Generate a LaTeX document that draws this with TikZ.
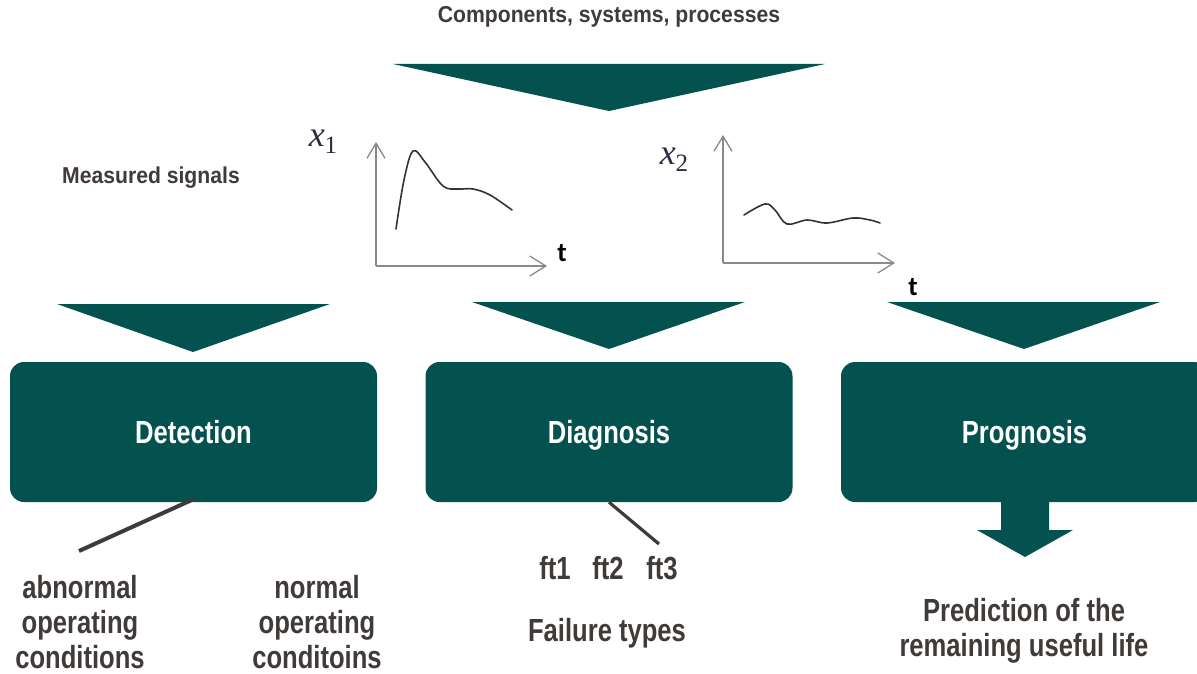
\documentclass[tikz,border=0pt]{standalone}
\usepackage{fontspec}
\usetikzlibrary{arrows.meta}
\newfontfamily\condfont[FakeStretch=0.8]{Liberation Sans}
\newfontfamily\headfont[FakeStretch=0.92]{Liberation Sans}
\newfontfamily\axisfont{Carlito}
\newfontfamily\varfont{Liberation Serif}
\newcommand{\signame}[1]{{\itshape x}\raisebox{-7pt}{\fontsize{25}{25}\selectfont #1}}
\definecolor{tealbox}{HTML}{03524F}
\definecolor{txtgray}{HTML}{403A38}
\definecolor{axisgray}{HTML}{8A8A8A}
\definecolor{curvegray}{HTML}{333333}
\definecolor{varcol}{HTML}{2A2D40}
\begin{document}
\begin{tikzpicture}[x=1pt,y=-1pt,
  box/.style={fill=tealbox, rounded corners=14pt, minimum width=367pt, minimum height=140pt,
    inner sep=0pt, text height=23pt, text depth=0pt, text=white,
    font=\condfont\bfseries\fontsize{32}{35}\selectfont},
  tri/.style={fill=tealbox},
  big/.style={text=txtgray, align=center, inner sep=0pt, font=\condfont\bfseries\fontsize{32}{35}\selectfont},
  head/.style={text=txtgray, inner sep=0pt, font=\headfont\bfseries\fontsize{23}{26}\selectfont},
  lead/.style={draw=txtgray, line width=4pt},
  axis/.style={draw=axisgray, line width=1.3pt},
  curve/.style={draw=curvegray, line width=1.6pt, line cap=round},
  axlabel/.style={inner sep=0pt, font=\axisfont\bfseries\fontsize{27}{27}\selectfont},
  varlabel/.style={inner sep=0pt, text=varcol, font=\varfont\fontsize{36}{36}\selectfont}]
\useasboundingbox (0,0) rectangle (1197,674);
\clip (0,0) rectangle (1197,674);

% heading and the main downward arrow
\node[head] (title) at (609,17) {Components, systems, processes};
\fill[tri] (393,64) -- (825,64) -- (609,111) -- cycle;

% measured signal x1
\node[head] (meas) at (151,178) {Measured signals};
\node[varlabel] (x1) at (323,142) {\signame{1}};
\coordinate (o1) at (376,266);
\draw[axis, -{Straight Barb[length=15pt,width=18pt]}] (o1) -- (376,142);
\draw[axis, -{Straight Barb[length=16pt,width=20pt]}] (o1) -- (547,266);
\node[axlabel] (t1) at (562,253) {t};
\draw[curve] plot[smooth, tension=0.6] coordinates
  {(396,229) (404,180) (413,151) (425,162) (443,186) (458,189) (473,189) (490,195) (512,210)};

% measured signal x2
\node[varlabel] (x2) at (674,160) {\signame{2}};
\coordinate (o2) at (723,263);
\draw[axis, -{Straight Barb[length=15pt,width=18pt]}] (o2) -- (723,135);
\draw[axis, -{Straight Barb[length=16pt,width=20pt]}] (o2) -- (895,263);
\node[axlabel] (t2) at (913,287) {t};
\draw[curve] plot[smooth, tension=0.6] coordinates
  {(744,215) (765,204) (775,210) (787,224) (807,220) (827,223) (853,218) (870,220) (880,223)};

% arrows into the three stages
\fill[tri] (57,304) -- (330,304) -- (193,352) -- cycle;
\fill[tri] (472,302) -- (745,302) -- (609,349) -- cycle;
\fill[tri] (887,302) -- (1160,302) -- (1024,349) -- cycle;

% the three stages
\node[box] (det) at (193.5,432) {Detection};
\node[box] (diag) at (609,432) {Diagnosis};
\node[box] (prog) at (1024.5,432) {Prognosis};

% detection outcomes
\coordinate (abnend) at (79,551);
\draw[lead] ([yshift=3pt]det.south) -- (abnend);
\node[big] (abn) at (80,622) {abnormal\\operating\\conditions};
\node[big] (nrm) at (317,622) {normal\\operating\\conditoins};

% diagnosis outcomes
\coordinate (ftend) at (659,544);
\draw[lead, line width=3.2pt] (diag.south) -- (ftend);
\node[big] (ft1) at (555,568) {ft1};
\node[big] (ft2) at (608,568) {ft2};
\node[big] (ft3) at (662,568) {ft3};
\node[big] (fail) at (607,633) {Failure types};

% prognosis outcome
\fill[tri] (1001,502) -- (1049,502) -- (1049,530) -- (1073,530) -- (1025,557)
  -- (977,530) -- (1001,530) -- cycle;
\node[big] (rul) at (1024,631) {Prediction of the\\remaining useful life};
\end{tikzpicture}
\end{document}
